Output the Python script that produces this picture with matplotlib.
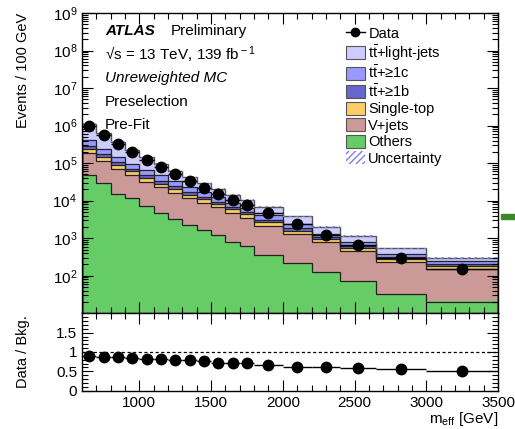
import numpy as np
import matplotlib
matplotlib.use("Agg")
import matplotlib.pyplot as plt
from matplotlib.patches import Patch, Rectangle
from matplotlib.lines import Line2D
from matplotlib.ticker import FixedLocator, MultipleLocator, NullFormatter

plt.rcParams['font.family'] = ['Liberation Sans', 'DejaVu Sans']
plt.rcParams['mathtext.fontset'] = 'custom'
plt.rcParams['mathtext.rm'] = 'Liberation Sans'
plt.rcParams['mathtext.it'] = 'Liberation Sans:italic'
plt.rcParams['mathtext.bf'] = 'Liberation Sans:bold'

# bin edges in m_eff [GeV]
edges = [600, 700, 800, 900, 1000, 1100, 1200, 1300, 1400, 1500, 1600, 1700,
         1800, 2000, 2200, 2400, 2650, 3000, 3500]

# events / 100 GeV, per process (stack order bottom -> top)
others = [4.7e4, 3.0e4, 1.48e4, 1.15e4, 7.24e3, 4.79e3, 3.24e3, 2.24e3, 1.66e3,
          1.2e3, 794, 631, 363, 219, 123, 71, 32, 20]
vjets = [1.44e5, 8.73e4, 5.6e4, 3.75e4, 2.51e4, 1.81e4, 1.30e4, 9.51e3, 7.25e3,
         5.4e3, 3990, 2920, 1775, 1069, 653, 376, 202, 135]
singletop = [4.9e4, 3.04e4, 1.63e4, 1.13e4, 7.45e3, 5.28e3, 3.74e3, 2.71e3, 2.05e3,
             1.52e3, 1100, 817, 492, 297, 179, 103, 41, 27]
ttb = [4.85e4, 2.73e4, 1.77e4, 1.11e4, 8.1e3, 5.75e3, 4.07e3, 2.67e3, 1.82e3,
       1.35e3, 865, 601, 460, 247, 114, 75, 34, 18]
ttc = [1.19e5, 6.47e4, 4.31e4, 2.64e4, 1.97e4, 1.39e4, 9.86e3, 6.32e3, 4.2e3,
       3.12e3, 1960, 1344, 1079, 567, 249, 169, 71, 40]
ttlight = [7.15e5, 4.06e5, 2.24e5, 1.31e5, 7.69e4, 4.76e4, 2.92e4, 1.82e4, 1.19e4,
           8.3e3, 5740, 4160, 2749, 1403, 677, 354, 157, 55]
data = [1.0e6, 5.6e5, 3.2e5, 1.94e5, 1.2e5, 7.7e4, 5.0e4, 3.3e4, 2.2e4,
        1.5e4, 1.02e4, 7.6e3, 4.6e3, 2.35e3, 1.2e3, 660, 300, 152]

labels = ['Others', 'V+jets', 'Single-top', r't$\bar{\rm t}$+≥1b',
          r't$\bar{\rm t}$+≥1c', r't$\bar{\rm t}$+light-jets']
colors = ['#66cc66', '#cc9999', '#ffcc66', '#6666cc', '#9999ff', '#ccccff']

edges = np.array(edges, dtype=float)
centers = 0.5 * (edges[1:] + edges[:-1])
halfw = 0.5 * (edges[1:] - edges[:-1])
data = np.array(data)
comps = [np.array(c) for c in (others, vjets, singletop, ttb, ttc, ttlight)]

fig = plt.figure(figsize=(5.15, 4.29), dpi=100)
ax = fig.add_axes([0.1592, 0.2697, 0.8078, 0.7])
rax = fig.add_axes([0.1592, 0.0893, 0.8078, 0.1804])

bottom = np.full(len(centers), 1.0)
for c, col in zip(comps, colors):
    top = bottom + c
    ax.stairs(top, edges, baseline=bottom, fill=True, color=col, lw=0)
    bottom = top
total = bottom

cum = np.zeros(len(centers))
for c in comps[:-1]:
    cum = cum + c
    ax.stairs(cum, edges, color='#222222', lw=0.9)
ax.stairs(total, edges, color='#555555', lw=1.0)

# uncertainty band
unc = 0.04 * total
ax.stairs(total + unc, edges, baseline=total - unc, fill=True,
          facecolor='none', edgecolor='#8080e0', hatch='/////', lw=0)

# data
nevt = data * (2 * halfw) / 100.0
yerr = data / np.sqrt(nevt)
ax.errorbar(centers, data, xerr=halfw, yerr=yerr, fmt='o', color='black',
            markersize=7.5, elinewidth=1.0, capsize=0)

ax.set_yscale('log')
ax.set_xlim(600, 3500)
ax.set_ylim(10, 1e9)
ax.set_yticks([10**k for k in range(2, 10)])
ax.set_yticklabels([r'10$^{%d}$' % k for k in range(2, 10)])
ax.yaxis.set_minor_locator(matplotlib.ticker.LogLocator(base=10, subs=np.arange(2, 10)))
ax.yaxis.set_minor_formatter(NullFormatter())
ax.xaxis.set_major_locator(MultipleLocator(500))
ax.xaxis.set_minor_locator(MultipleLocator(100))
ax.set_xticklabels([])
ax.set_ylabel('Events / 100 GeV', fontsize=10.5, loc='top')

for a in (ax, rax):
    a.tick_params(which='both', direction='in', top=True, right=True, labelsize=11)
    a.tick_params(which='major', length=8, width=0.8)
    a.tick_params(which='minor', length=4, width=0.8)
    for s in a.spines.values():
        s.set_linewidth(1.0)

# ATLAS labels
tx = 0.055
ax.text(tx, 0.94, 'ATLAS', transform=ax.transAxes, fontsize=11,
        fontweight='bold', style='italic', va='center')
ax.text(tx + 0.158, 0.94, 'Preliminary', transform=ax.transAxes, fontsize=11, va='center')
ax.text(tx, 0.862, '√s = 13 TeV, 139 fb$^{\\rm -1}$', transform=ax.transAxes,
        fontsize=11, va='center')
ax.text(tx, 0.783, 'Unreweighted MC', transform=ax.transAxes, fontsize=11,
        style='italic', va='center')
ax.text(tx, 0.705, 'Preselection', transform=ax.transAxes, fontsize=11, va='center')
ax.text(tx, 0.628, 'Pre-Fit', transform=ax.transAxes, fontsize=11, va='center')

# legend
handles = [Line2D([], [], color='black', marker='o', markersize=6, lw=1.0)]
names = ['Data']
for lab, col in list(zip(labels, colors))[::-1]:
    handles.append(Patch(facecolor=col, edgecolor='#555555', lw=0.8))
    names.append(lab)
handles.append(Patch(facecolor='white', edgecolor='#8080e0', hatch='/////', lw=0))
names.append('Uncertainty')
ax.legend(handles, names, loc='upper left', bbox_to_anchor=(0.62, 0.975),
          frameon=False, fontsize=10.5, handlelength=1.3, handleheight=1.0,
          handletextpad=0.25, labelspacing=0.13, borderaxespad=0.0)

# ratio
ratio = data / total
rax.errorbar(centers, ratio, xerr=halfw, yerr=yerr / total, fmt='o', color='black',
             markersize=7.5, elinewidth=1.0, capsize=0)
rax.axhline(1.0, color='black', ls=(0, (2.5, 2)), lw=0.9)
rax.set_xlim(600, 3500)
rax.set_ylim(0, 2)
rax.yaxis.set_major_locator(FixedLocator([0, 0.5, 1, 1.5]))
rax.set_yticklabels(['0', '0.5', '1', '1.5'])
rax.yaxis.set_minor_locator(MultipleLocator(0.1))
rax.xaxis.set_major_locator(MultipleLocator(500))
rax.xaxis.set_minor_locator(MultipleLocator(100))
rax.set_xticklabels(['', '1000', '1500', '2000', '2500', '3000', '3500'][:len(rax.get_xticks())])
rax.set_ylabel('Data / Bkg.', fontsize=10.5)
rax.set_xlabel(r'm$_{\rm eff}$ [GeV]', fontsize=11, ha='right', va='center')
rax.xaxis.set_label_coords(1.0, -0.36)
rax.yaxis.set_label_coords(-0.125, 0.5)
ax.yaxis.set_label_coords(-0.125, 1.0)

fig.patches.append(Rectangle((501 / 515, 1 - 219 / 429), 14 / 515, 5 / 429,
                             transform=fig.transFigure, color='#3a8a2a'))

fig.savefig('out.png', dpi=100)
